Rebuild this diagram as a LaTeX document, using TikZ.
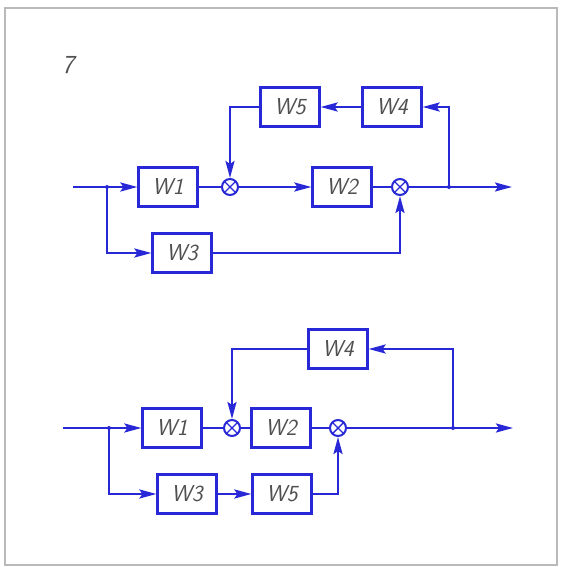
\documentclass[tikz,border=0pt]{standalone}
\usetikzlibrary{arrows.meta}
\definecolor{lineblue}{RGB}{40,40,215}
\definecolor{labelgray}{RGB}{80,80,80}

\begin{document}
\begin{tikzpicture}[x=1pt, y=-1pt,
    link/.style={draw=lineblue, line width=2.4pt},
    arr/.style={draw=lineblue, line width=2.4pt, -{Stealth[length=17pt,width=9pt,inset=3pt]}},
    block/.style={draw=lineblue, line width=2.2pt, rectangle, minimum width=59pt, minimum height=39pt,
        inner sep=0pt, text=labelgray, font=\fontsize{23}{26}\selectfont\sffamily\itshape},
    sum/.style={draw=lineblue, line width=2pt, circle, minimum size=16pt, inner sep=0pt,
        path picture={\draw[lineblue, line width=1.4pt]
            (path picture bounding box.south west) -- (path picture bounding box.north east)
            (path picture bounding box.north west) -- (path picture bounding box.south east);}},
    dot/.style={fill=lineblue}]

    \useasboundingbox (0,0) rectangle (560,567);
    \draw[gray!55, line width=1.5pt] (5,8) rectangle (557,565);

    \node[text=labelgray, font=\fontsize{26}{30}\selectfont\sffamily\itshape] (number) at (68,65) {7};

    % upper scheme
    \coordinate (inA) at (73,187);
    \coordinate (forkA) at (107,187);
    \node[block] (w1A) at (168,187) {W1};
    \node[sum] (sumA1) at (230,187) {};
    \node[block] (w2A) at (342,187) {W2};
    \node[sum] (sumA2) at (400,187) {};
    \coordinate (tapA) at (449,187);
    \coordinate (outA) at (512,187);
    \node[block] (w5A) at (290,107) {W5};
    \node[block] (w4A) at (392,107) {W4};
    \node[block] (w3A) at (182,253) {W3};

    \draw[link] (inA) -- (forkA);
    \draw[arr] (forkA) -- (w1A);
    \draw[link] (w1A) -- (sumA1);
    \draw[arr] (sumA1) -- (w2A);
    \draw[link] (w2A) -- (sumA2);
    \draw[arr] (sumA2) -- (outA);
    \draw[arr] (tapA) |- (w4A);
    \draw[arr] (w4A) -- (w5A);
    \draw[arr] (w5A) -| (sumA1);
    \draw[arr] (forkA) |- (w3A);
    \draw[arr] (w3A) -| (sumA2);
    \fill[dot] (forkA) circle (2pt) (tapA) circle (2pt);

    % lower scheme
    \coordinate (inB) at (63,428);
    \coordinate (forkB) at (109,428);
    \node[block] (w1B) at (172,428) {W1};
    \node[sum] (sumB1) at (232,428) {};
    \node[block] (w2B) at (281,428) {W2};
    \node[sum] (sumB2) at (338,428) {};
    \coordinate (tapB) at (453,428);
    \coordinate (outB) at (513,428);
    \node[block] (w4B) at (338,349) {W4};
    \node[block] (w3B) at (187,494) {W3};
    \node[block] (w5B) at (282,494) {W5};

    \draw[link] (inB) -- (forkB);
    \draw[arr] (forkB) -- (w1B);
    \draw[link] (w1B) -- (sumB1);
    \draw[link] (sumB1) -- (w2B);
    \draw[link] (w2B) -- (sumB2);
    \draw[arr] (sumB2) -- (outB);
    \draw[arr] (tapB) |- (w4B);
    \draw[arr] (w4B) -| (sumB1);
    \draw[arr] (forkB) |- (w3B);
    \draw[arr] (w3B) -- (w5B);
    \draw[arr] (w5B) -| (sumB2);
    \fill[dot] (forkB) circle (2pt) (tapB) circle (2pt);
\end{tikzpicture}
\end{document}
